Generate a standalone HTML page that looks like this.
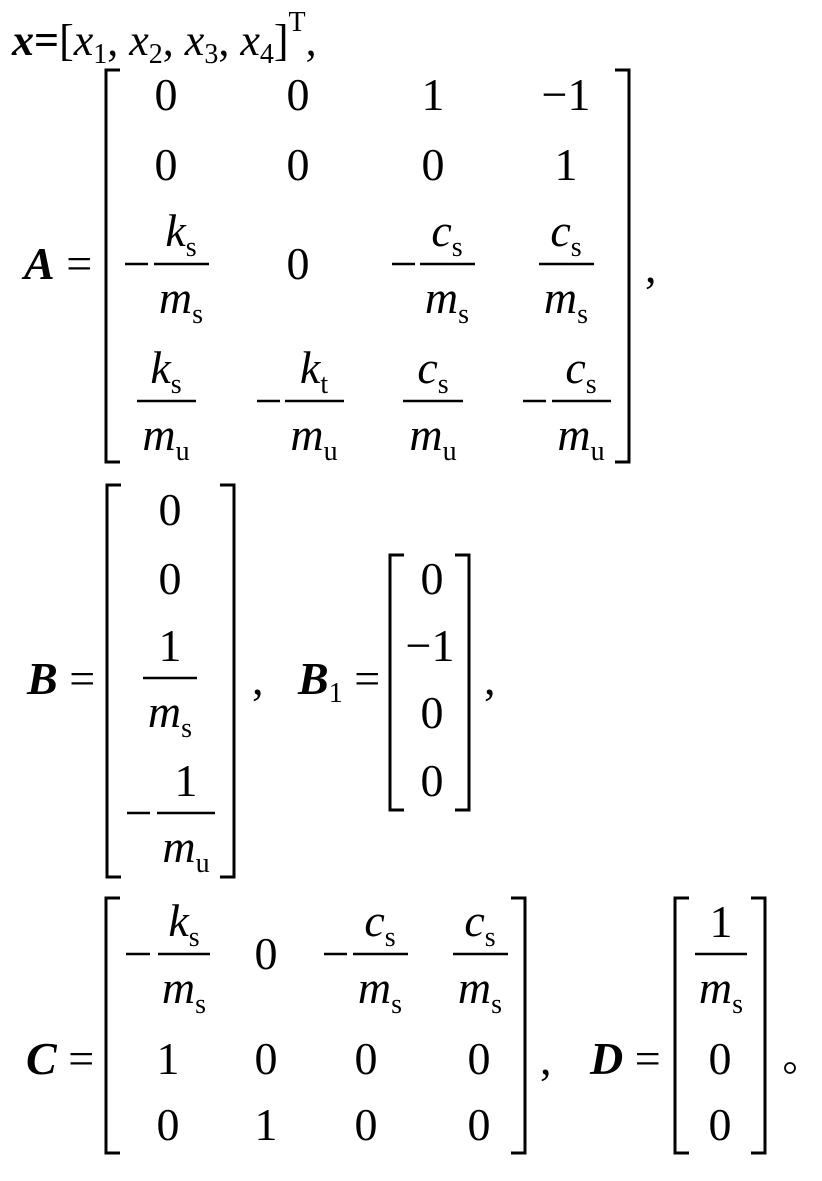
<!DOCTYPE html>
<html><head><meta charset="utf-8"><style>
html,body{margin:0;padding:0;background:#fff;}
svg{display:block;}
text{font-family:"Liberation Serif","Times New Roman",serif;font-size:46px;fill:#000;}
.i{font-style:italic;}
.b{font-style:italic;font-weight:bold;}
.s{font-size:28px;font-style:normal;font-weight:normal;}
line,polyline{stroke:#000;fill:none;}
.f{stroke-width:2.5;}
.k{stroke-width:3;}
</style></head><body>
<svg width="822" height="1181" viewBox="0 0 822 1181" xmlns="http://www.w3.org/2000/svg">
<!-- line 1 -->
<text x="12" y="55" style="font-size:44px"><tspan class="b">x</tspan><tspan font-weight="bold">=</tspan>[<tspan class="i">x</tspan><tspan class="s" dy="8">1</tspan><tspan dy="-8">, </tspan><tspan class="i">x</tspan><tspan class="s" dy="8">2</tspan><tspan dy="-8">, </tspan><tspan class="i">x</tspan><tspan class="s" dy="8">3</tspan><tspan dy="-8">, </tspan><tspan class="i">x</tspan><tspan class="s" dy="8">4</tspan><tspan dy="-8">]</tspan><tspan class="s" dy="-24">T</tspan><tspan dy="24">,</tspan></text>

<!-- A -->
<text x="24" y="279"><tspan class="b">A</tspan> =</text>
<polyline class="k" points="120,70 106,70 106,462 120,462"/>
<polyline class="k" points="615,70 629,70 629,462 615,462"/>
<text x="166" y="110" text-anchor="middle">0</text>
<text x="298" y="110" text-anchor="middle">0</text>
<text x="433" y="110" text-anchor="middle">1</text>
<text x="566" y="110" text-anchor="middle">−1</text>
<text x="166" y="180" text-anchor="middle">0</text>
<text x="298" y="180" text-anchor="middle">0</text>
<text x="433" y="180" text-anchor="middle">0</text>
<text x="566" y="180" text-anchor="middle">1</text>
<!-- row3 -->
<line class="f" x1="125" y1="264" x2="148" y2="264"/>
<line class="f" x1="154" y1="264" x2="209" y2="264"/>
<text x="181" y="246" text-anchor="middle"><tspan class="i">k</tspan><tspan class="s" dy="10">s</tspan></text>
<text x="181" y="313" text-anchor="middle"><tspan class="i">m</tspan><tspan class="s" dy="10">s</tspan></text>
<text x="298" y="279" text-anchor="middle">0</text>
<line class="f" x1="392" y1="264" x2="415" y2="264"/>
<line class="f" x1="420" y1="264" x2="475" y2="264"/>
<text x="447" y="246" text-anchor="middle"><tspan class="i">c</tspan><tspan class="s" dy="10">s</tspan></text>
<text x="447" y="313" text-anchor="middle"><tspan class="i">m</tspan><tspan class="s" dy="10">s</tspan></text>
<line class="f" x1="539" y1="264" x2="594" y2="264"/>
<text x="566" y="246" text-anchor="middle"><tspan class="i">c</tspan><tspan class="s" dy="10">s</tspan></text>
<text x="566" y="313" text-anchor="middle"><tspan class="i">m</tspan><tspan class="s" dy="10">s</tspan></text>
<!-- row4 -->
<line class="f" x1="137" y1="401" x2="196" y2="401"/>
<text x="166" y="383" text-anchor="middle"><tspan class="i">k</tspan><tspan class="s" dy="10">s</tspan></text>
<text x="166" y="450" text-anchor="middle"><tspan class="i">m</tspan><tspan class="s" dy="10">u</tspan></text>
<line class="f" x1="257" y1="401" x2="280" y2="401"/>
<line class="f" x1="285" y1="401" x2="344" y2="401"/>
<text x="314" y="383" text-anchor="middle"><tspan class="i">k</tspan><tspan class="s" dy="10">t</tspan></text>
<text x="314" y="450" text-anchor="middle"><tspan class="i">m</tspan><tspan class="s" dy="10">u</tspan></text>
<line class="f" x1="403" y1="401" x2="463" y2="401"/>
<text x="433" y="383" text-anchor="middle"><tspan class="i">c</tspan><tspan class="s" dy="10">s</tspan></text>
<text x="433" y="450" text-anchor="middle"><tspan class="i">m</tspan><tspan class="s" dy="10">u</tspan></text>
<line class="f" x1="523" y1="401" x2="546" y2="401"/>
<line class="f" x1="552" y1="401" x2="611" y2="401"/>
<text x="581" y="383" text-anchor="middle"><tspan class="i">c</tspan><tspan class="s" dy="10">s</tspan></text>
<text x="581" y="450" text-anchor="middle"><tspan class="i">m</tspan><tspan class="s" dy="10">u</tspan></text>
<text x="645" y="282">,</text>

<!-- B -->
<text x="27" y="694"><tspan class="b">B</tspan> =</text>
<polyline class="k" points="121,485 107,485 107,877 121,877"/>
<polyline class="k" points="220,485 234,485 234,877 220,877"/>
<text x="170" y="525" text-anchor="middle">0</text>
<text x="170" y="594" text-anchor="middle">0</text>
<line class="f" x1="143" y1="678" x2="197" y2="678"/>
<text x="170" y="661" text-anchor="middle">1</text>
<text x="170" y="727" text-anchor="middle"><tspan class="i">m</tspan><tspan class="s" dy="10">s</tspan></text>
<line class="f" x1="127" y1="813" x2="150" y2="813"/>
<line class="f" x1="157" y1="813" x2="215" y2="813"/>
<text x="186" y="796" text-anchor="middle">1</text>
<text x="186" y="862" text-anchor="middle"><tspan class="i">m</tspan><tspan class="s" dy="10">u</tspan></text>
<text x="252" y="694">,</text>
<text x="298" y="694"><tspan class="b">B</tspan><tspan class="s" dy="8">1</tspan><tspan dy="-8"> =</tspan></text>
<polyline class="k" points="404,555 390,555 390,810 404,810"/>
<polyline class="k" points="455,555 469,555 469,810 455,810"/>
<text x="432" y="594" text-anchor="middle">0</text>
<text x="430" y="661" text-anchor="middle">−1</text>
<text x="432" y="728" text-anchor="middle">0</text>
<text x="432" y="796" text-anchor="middle">0</text>
<text x="484" y="694">,</text>

<!-- C -->
<text x="26" y="1074"><tspan class="b">C</tspan> =</text>
<polyline class="k" points="120,898 106,898 106,1153 120,1153"/>
<polyline class="k" points="511,898 525,898 525,1153 511,1153"/>
<line class="f" x1="126" y1="954" x2="150" y2="954"/>
<line class="f" x1="158" y1="954" x2="210" y2="954"/>
<text x="184" y="936" text-anchor="middle"><tspan class="i">k</tspan><tspan class="s" dy="10">s</tspan></text>
<text x="184" y="1003" text-anchor="middle"><tspan class="i">m</tspan><tspan class="s" dy="10">s</tspan></text>
<text x="266" y="969" text-anchor="middle">0</text>
<line class="f" x1="324" y1="954" x2="347" y2="954"/>
<line class="f" x1="353" y1="954" x2="408" y2="954"/>
<text x="380" y="936" text-anchor="middle"><tspan class="i">c</tspan><tspan class="s" dy="10">s</tspan></text>
<text x="380" y="1003" text-anchor="middle"><tspan class="i">m</tspan><tspan class="s" dy="10">s</tspan></text>
<line class="f" x1="453" y1="954" x2="508" y2="954"/>
<text x="480" y="936" text-anchor="middle"><tspan class="i">c</tspan><tspan class="s" dy="10">s</tspan></text>
<text x="480" y="1003" text-anchor="middle"><tspan class="i">m</tspan><tspan class="s" dy="10">s</tspan></text>
<text x="168" y="1074" text-anchor="middle">1</text>
<text x="266" y="1074" text-anchor="middle">0</text>
<text x="366" y="1074" text-anchor="middle">0</text>
<text x="479" y="1074" text-anchor="middle">0</text>
<text x="168" y="1140" text-anchor="middle">0</text>
<text x="266" y="1140" text-anchor="middle">1</text>
<text x="366" y="1140" text-anchor="middle">0</text>
<text x="479" y="1140" text-anchor="middle">0</text>
<text x="540" y="1074">,</text>

<!-- D -->
<text x="590" y="1074"><tspan class="b">D</tspan> =</text>
<polyline class="k" points="689,898 675,898 675,1153 689,1153"/>
<polyline class="k" points="751,898 765,898 765,1153 751,1153"/>
<line class="f" x1="695" y1="954" x2="747" y2="954"/>
<text x="721" y="937" text-anchor="middle">1</text>
<text x="721" y="1003" text-anchor="middle"><tspan class="i">m</tspan><tspan class="s" dy="10">s</tspan></text>
<text x="720" y="1074" text-anchor="middle">0</text>
<text x="720" y="1140" text-anchor="middle">0</text>
<circle cx="790" cy="1068" r="5" fill="none" stroke="#000" stroke-width="1.8"/>
</svg>
</body></html>
